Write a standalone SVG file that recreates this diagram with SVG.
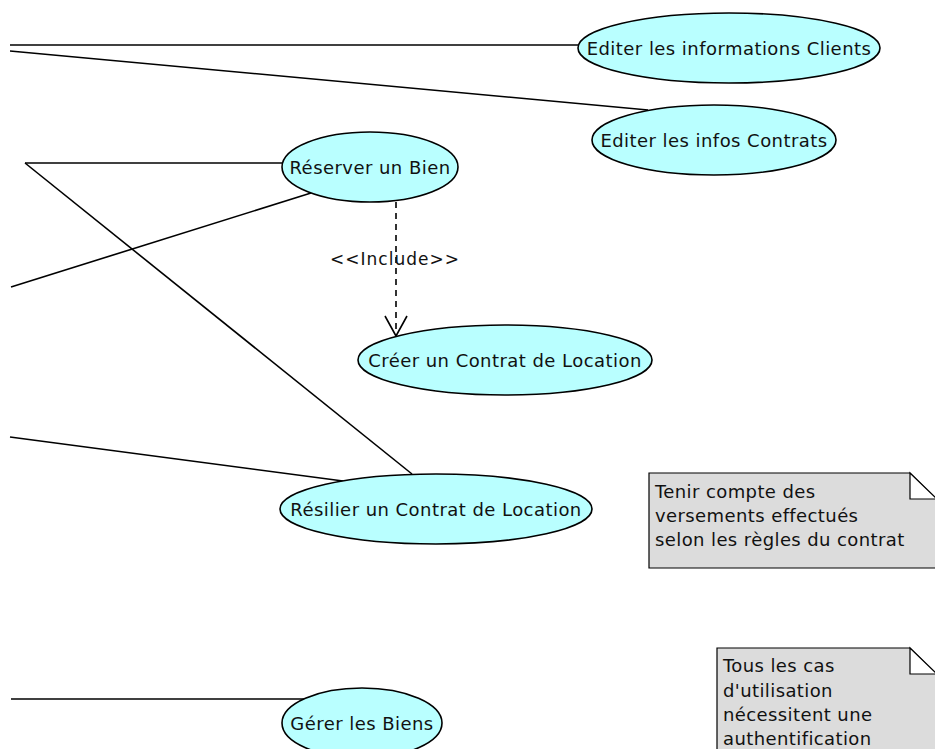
<svg xmlns="http://www.w3.org/2000/svg" width="935" height="749" viewBox="0 0 935 749">
<defs>
<style>
.uc ellipse{fill:#b9ffff;stroke:#000;stroke-width:1.6}
.uc text{font-family:"DejaVu Sans",sans-serif;font-size:18px;letter-spacing:0.45px;fill:#111;text-anchor:middle}
.conn line{stroke:#000;stroke-width:1.6;fill:none}
.note path{fill:#dcdcdc;stroke:#000;stroke-width:1.2}
.note path.ear{fill:#fff}
.note text{font-family:"DejaVu Sans",sans-serif;font-size:18px;letter-spacing:0.4px;fill:#111}
.lbl{font-family:"DejaVu Sans",sans-serif;font-size:17px;fill:#111;text-anchor:middle;letter-spacing:1px}
</style>
</defs>
<rect width="935" height="749" fill="#fff"/>
<g id="connectors" class="conn">
<line x1="10" y1="45" x2="578" y2="45"/>
<line x1="10" y1="51" x2="648" y2="110"/>
<line x1="25" y1="163" x2="283" y2="163"/>
<line x1="25" y1="163" x2="412" y2="474"/>
<line x1="11" y1="287" x2="311" y2="193"/>
<line x1="10" y1="437" x2="343" y2="481"/>
<line x1="11" y1="699" x2="304" y2="699"/>
<line x1="396" y1="202" x2="396" y2="336" stroke-dasharray="6,5"/>
<path d="M385,316 L396,336 L407,316" fill="none" stroke="#000" stroke-width="1.6"/>
<text class="lbl" x="395" y="265">&lt;&lt;Include&gt;&gt;</text>
</g>
<g id="uc-editer-clients" class="uc">
<ellipse cx="729" cy="48" rx="151" ry="35"/>
<text x="729" y="55">Editer les informations Clients</text>
</g>
<g id="uc-editer-contrats" class="uc">
<ellipse cx="714" cy="140" rx="122" ry="35"/>
<text x="714" y="147">Editer les infos Contrats</text>
</g>
<g id="uc-reserver" class="uc">
<ellipse cx="370" cy="167" rx="88" ry="35"/>
<text x="370" y="174">Réserver un Bien</text>
</g>
<g id="uc-creer" class="uc">
<ellipse cx="505" cy="360" rx="147" ry="35"/>
<text x="505" y="367">Créer un Contrat de Location</text>
</g>
<g id="uc-resilier" class="uc">
<ellipse cx="436" cy="509" rx="156" ry="35"/>
<text x="436" y="516">Résilier un Contrat de Location</text>
</g>
<g id="uc-gerer" class="uc">
<ellipse cx="362" cy="723" rx="80" ry="35"/>
<text x="362" y="730">Gérer les Biens</text>
</g>
<g id="note-versements" class="note">
<path d="M649,473 L910,473 L937,500 L937,568 L649,568 Z"/>
<path class="ear" d="M910,473 L910,499 L937,499 Z"/>
<text x="655" y="498">Tenir compte des</text>
<text x="655" y="522">versements effectués</text>
<text x="655" y="546">selon les règles du contrat</text>
</g>
<g id="note-auth" class="note">
<path d="M717,648 L910,648 L937,675 L937,760 L717,760 Z"/>
<path class="ear" d="M910,648 L910,674 L937,674 Z"/>
<text x="723" y="672">Tous les cas</text>
<text x="723" y="697">d'utilisation</text>
<text x="723" y="721">nécessitent une</text>
<text x="723" y="745">authentification</text>
</g>
</svg>
